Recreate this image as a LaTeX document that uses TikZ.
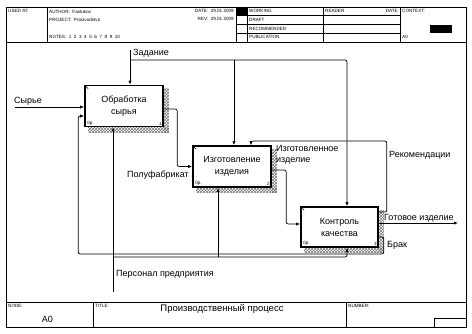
\documentclass[tikz,border=0pt]{standalone}
\usepackage{fontspec}
\setmainfont{Liberation Sans}
\usetikzlibrary{arrows.meta,calc,patterns,backgrounds}
\begin{document}
\begin{tikzpicture}[x=1pt,y=-1pt,
  conn/.style={line width=0.7pt, rounded corners=2pt},
  arr/.style={conn, -{Latex[length=4pt,width=3.2pt]}},
  proc/.style={draw, line width=1.6pt, fill=white, minimum width=78pt, minimum height=41pt, inner sep=0pt, align=center, font=\fontsize{9}{12}\selectfont},
  lbl/.style={inner sep=0pt, font=\fontsize{9}{11.5}\selectfont},
  tinytxt/.style={inner sep=0pt, font=\fontsize{4.6}{5}\selectfont},
  frameline/.style={line width=0.8pt},
  shadow/.style={pattern=crosshatch, pattern color=black!55}
]
\useasboundingbox (0,0) rectangle (472,333);

% frame and header
\draw[frameline] (6,7) rectangle (466,327);
\draw[frameline] (6,42) -- (466,42);
\draw[frameline] (6,302) -- (466,302);
\foreach \xx in {47,236,247,323,400} \draw[frameline] (\xx,7) -- (\xx,42);
\foreach \yy in {15.75,24.5,33.25} \draw[frameline] (236,\yy) -- (400,\yy);
\fill (236,7) rectangle (247,15.75);
\fill (430,25) rectangle (452,33);

\node[tinytxt, anchor=north west] (usedat) at (8,9.5) {USED AT:};
\node[tinytxt, anchor=north west] (author) at (49,9.5) {AUTHOR:\ \ Fastukov};
\node[tinytxt, anchor=north west] (project) at (49,17.5) {PROJECT:\ \ Proizvodstvo};
\node[tinytxt, anchor=north west] (notes) at (49,35.5) {NOTES:\ \ 1\ \ 2\ \ 3\ \ 4\ \ 5\ \ 6\ \ 7\ \ 8\ \ 9\ \ 10};
\node[tinytxt, anchor=north east] (date) at (234,9.5) {DATE:\ \ 29.01.2009};
\node[tinytxt, anchor=north east] (rev) at (234,17.5) {REV:\ \ 29.01.2009};
\node[tinytxt, anchor=north west] (working) at (249,9.5) {WORKING};
\node[tinytxt, anchor=north west] (draft) at (249,18) {DRAFT};
\node[tinytxt, anchor=north west] (recom) at (249,26.8) {RECOMMENDED};
\node[tinytxt, anchor=north west] (publ) at (249,35.5) {PUBLICATION};
\node[tinytxt, anchor=north west] (reader) at (325,9.5) {READER};
\node[tinytxt, anchor=north east] (rdate) at (398,9.5) {DATE};
\node[tinytxt, anchor=north west] (context) at (402,9.5) {CONTEXT:};
\node[tinytxt, anchor=north west] (ctxa0) at (402,35.5) {A0};

% footer
\draw[frameline] (93,302) -- (93,327);
\draw[frameline] (346,302) -- (346,327);
\draw[frameline] (434,318) rectangle (466,327);
\node[tinytxt, anchor=north west] (nodelbl) at (8,304) {NODE:};
\node[tinytxt, anchor=north west] (titlelbl) at (95,304) {TITLE:};
\node[tinytxt, anchor=north west] (numlbl) at (348,304) {NUMBER:};
\node[lbl] (nodeval) at (47.5,319) {A0};
\node[lbl, font=\fontsize{9.5}{11}\selectfont] (title) at (222,309) {Производственный процесс};

% boxes
\node[proc] (b1) at (124,106) {Обработка\\сырья};
\node[proc] (b2) at (232,166.5) {Изготовление\\изделия};
\node[proc, minimum width=77pt, minimum height=40pt] (b3) at (339.5,227) {Контроль\\качества};

\begin{scope}[on background layer]
\foreach \b in {b1,b2,b3} {
  \fill[shadow] ($(\b.north east)+(0,4)$) rectangle ($(\b.south east)+(5,5)$);
  \fill[shadow] ($(\b.south west)+(4,0)$) rectangle ($(\b.south east)+(5,5)$);
}
\end{scope}

\foreach \b/\n in {b1/1,b2/2,b3/3} {
  \draw[line width=0.6pt] ($(\b.north west)+(1.5,1.5)$) -- ++(2.5,2.5);
  \node[tinytxt, anchor=south west] at ($(\b.south west)+(3,-2)$) {0р.};
  \node[tinytxt, anchor=south east] at ($(\b.south east)+(-2,-2)$) {\n};
}

% Сырье
\coordinate (syr) at (15,107);
\draw[arr] (syr) -- ($(b1.west)+(0,1)$);
\node[lbl, anchor=west] (lsyr) at (14,101) {Сырье};

% Задание
\coordinate (zad) at (130,50);
\coordinate (zj1) at (130,60);
\coordinate (zj2) at (234,60);
\draw[arr] (zad) -- ($(b1.north)+(6,0)$);
\draw[arr] (zj1) -| ($(b3.north)+(7.5,0)$);
\draw[arr] (zj2) -- ($(b2.north)+(2,0)$);
\node[lbl, anchor=west] (lzad) at (133,53) {Задание};

% Полуфабрикат
\draw[arr] ($(b1.east)+(0,3)$) -| ($(b2.west)+(-15,0)$) |- (b2.west);
\node[lbl, anchor=east] (lpol) at (189,175) {Полуфабрикат};

% Изготовленное изделие
\draw[arr] ($(b2.east)+(0,3.5)$) -| ($(b3.west)+(-14,-3)$) |- ($(b3.west)+(0,-3)$);
\node[lbl, anchor=north west, align=left] (lizd) at (276,145) {Изготовленное\\изделие};

% Готовое изделие
\coordinate (got) at (458,223);
\draw[arr] ($(b3.east)+(0,-4)$) -- (got);
\node[lbl, anchor=west] (lgot) at (384,218) {Готовое изделие};

% Рекомендации
\draw[arr] ($(b3.east)+(0,-15)$) -| ($(b3.east)+(8,-86)$) -| ($(b2.north)+(19,0)$);
\node[lbl, anchor=west] (lrek) at (389,155) {Рекомендации};

% Брак
\draw[arr] ($(b3.east)+(0,10)$) -| ($(b3.east)+(5,27)$) -| ($(b1.west)+(-6,10)$) -- ($(b1.west)+(0,10)$);
\node[lbl, anchor=west] (lbrak) at (387,245) {Брак};

% Персонал предприятия
\coordinate (pers) at (113,292);
\coordinate (pj1) at (113,257);
\coordinate (pj2) at (218,257);
\draw[arr] (pers) -- ($(b1.south)+(-11,0)$);
\draw[arr] (pj1) -| ($(b3.south)+(7.5,0)$);
\draw[arr] (pj2) -- ($(b2.south)+(-14,0)$);
\node[lbl, anchor=west] (lpers) at (116,274) {Персонал предприятия};
\end{tikzpicture}
\end{document}
